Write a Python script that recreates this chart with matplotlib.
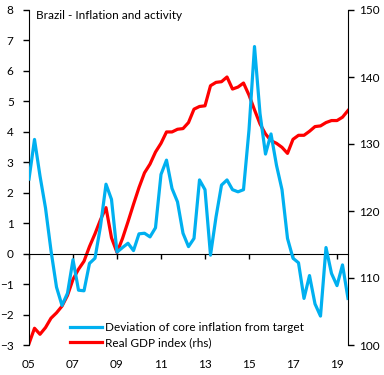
import numpy as np
import matplotlib
matplotlib.use('Agg')
import matplotlib.pyplot as plt

plt.rcParams['font.family'] = ['Lato', 'DejaVu Sans']

# quarterly, 2005Q1 .. 2019Q3
core_dev = [2.45, 3.75, 2.55, 1.5, 0.1, -1.1, -1.7, -1.3, -0.2, -1.2,
            -1.22, -0.32, -0.15, 0.9, 2.28, 1.78, 0.05, 0.2, 0.34, 0.1,
            0.65, 0.67, 0.55, 0.85, 2.6, 3.07, 2.14, 1.7, 0.67, 0.23,
            0.5, 2.42, 2.1, -0.05, 1.2, 2.25, 2.42, 2.1, 2.03, 2.1,
            4.06, 6.8, 4.6, 3.27, 3.93, 2.9, 2.1, 0.5, -0.15, -0.3,
            -1.47, -0.72, -1.65, -2.05, 0.2, -0.65, -1.05, -0.37, -1.47]
gdp_index = [100.2, 102.5, 101.6, 102.6, 104.0, 104.8, 105.8, 107.4, 109.8, 111.3,
             112.5, 114.7, 116.6, 118.7, 120.5, 116.0, 113.8, 115.9, 118.4, 121.0,
             123.5, 125.7, 127.0, 128.8, 130.1, 131.8, 131.8, 132.2, 132.3, 133.2,
             135.2, 135.6, 135.7, 138.7, 139.2, 139.3, 140.0, 138.2, 138.5, 139.1,
             137.3, 135.1, 133.0, 131.5, 130.5, 130.1, 129.5, 128.6, 130.7, 131.3,
             131.3, 131.9, 132.6, 132.7, 133.2, 133.5, 133.5, 134.0, 135.0]
year_labels = ['05', '07', '09', '11', '13', '15', '17', '19']

blue = '#00B0F0'
red = '#FF0000'

q = np.arange(len(core_dev))
tick_pos = np.arange(0, len(core_dev), 8)

F = plt.figure(figsize=(3.84, 3.75), dpi=100)
ax = F.add_axes([29/384, 30/375, 319/384, 335/375])
xa = ax.twinx()

# rhs series first so the blue one ends up on top
xa.plot(q, gdp_index, color=red, lw=2.3, solid_joinstyle='round', zorder=2)
xa.set_ylim(100, 150)
xa.set_yticks([100, 110, 120, 130, 140, 150])
ax.set_zorder(xa.get_zorder() + 1)
ax.patch.set_visible(False)

l1, = ax.plot(q, core_dev, color=blue, lw=2.3, solid_joinstyle='round', zorder=3)
l2, = ax.plot([], [], color=red, lw=2.3)
ax.set_ylim(-3, 8)
ax.set_yticks(range(-3, 9))
ax.set_xlim(0, len(core_dev) - 1)

# x axis sits on zero, labels sit at the bottom
ax.spines['bottom'].set_position(('data', 0))
ax.set_xticks(tick_pos)
ax.set_xticklabels([])
ax.tick_params(axis='x', direction='out', length=3.5, width=1)
sx = ax.secondary_xaxis(0.0)
sx.set_xticks(tick_pos)
sx.set_xticklabels(year_labels)
sx.tick_params(axis='x', length=0, pad=10, labelsize=8.5)
sx.spines['bottom'].set_visible(False)

for a in (ax, xa):
    a.spines['top'].set_visible(False)
for s in ('right',):
    ax.spines[s].set_visible(False)
xa.spines['bottom'].set_visible(False)
xa.spines['left'].set_visible(False)
ax.tick_params(axis='y', direction='out', length=4, width=1, pad=7, labelsize=8.5)
xa.tick_params(axis='y', direction='out', length=4, width=1, pad=4, labelsize=8.5)

ax.text(0.022, 0.985, 'Brazil - Inflation and activity', transform=ax.transAxes,
        ha='left', va='center', fontsize=8.5)

ax.legend([l1, l2], ['Deviation of core inflation from target', 'Real GDP index (rhs)'],
          loc='lower left', bbox_to_anchor=(0.128, -0.01), frameon=False,
          borderaxespad=0, borderpad=0, handlelength=2.7, handletextpad=0.25,
          labelspacing=0.35, fontsize=8.5)

F.savefig('out.png', dpi=100)
